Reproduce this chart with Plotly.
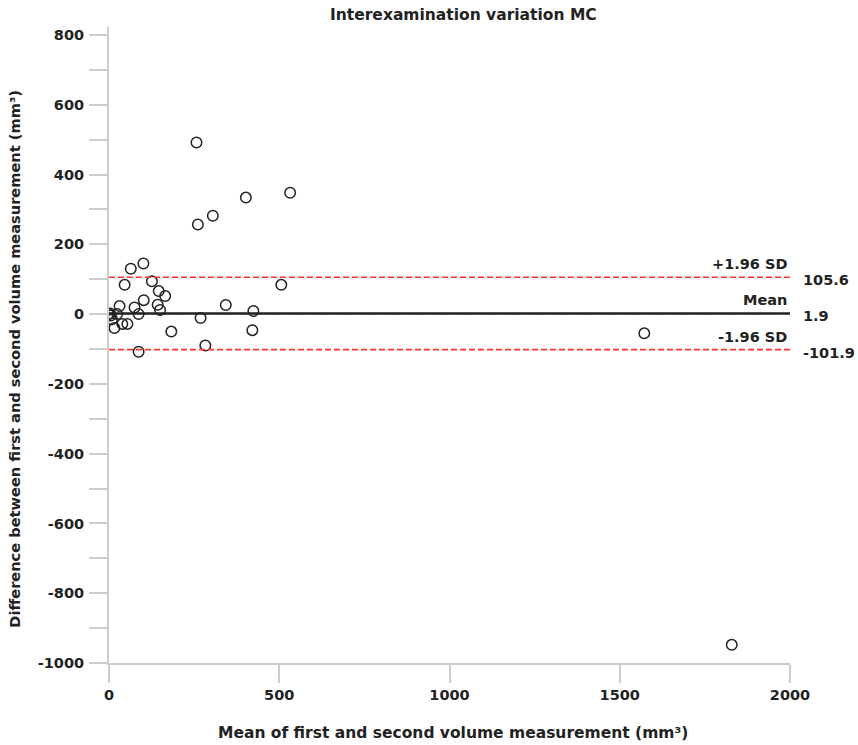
import plotly.graph_objects as go

# Bland-Altman data: mean of the two measurements vs their difference (mm³)
mean_vals = [0, 3, 5, 24, 9, 16, 31, 39, 54, 46, 64, 101, 126, 146, 165, 102, 75, 87,
             143, 150, 87, 183, 269, 283, 343, 424, 421, 506, 257, 261, 305, 402, 532,
             1572, 1829]
diff_vals = [0, 2, -4, 0, -15, -40, 23, -28, -28, 84, 130, 145, 94, 66, 52, 40, 19, 0,
             27, 12, -108, -50, -11, -90, 26, 9, -46, 84, 492, 257, 282, 334, 348,
             -55, -948]

# Agreement statistics
bias = 1.9
upper_loa = 105.6
lower_loa = -101.9

# Axis ticks (labels written with a plain hyphen for negatives)
x_ticks = [0, 500, 1000, 1500, 2000]
x_ticklabels = ["0", "500", "1000", "1500", "2000"]
y_ticks = [-1000, -800, -600, -400, -200, 0, 200, 400, 600, 800]
y_ticklabels = ["-1000", "-800", "-600", "-400", "-200", "0", "200", "400", "600", "800"]

x_range = [0, 2000]
y_range = [-1000, 823]

FONT = "DejaVu Sans, Liberation Sans, sans-serif"
TEXT = "#222222"
AXIS_GRAY = "#cccccc"

fig = go.Figure()

fig.add_trace(go.Scatter(
    x=mean_vals, y=diff_vals, mode="markers",
    marker=dict(symbol="circle-open", size=10.5, color=TEXT,
                line=dict(width=1.5, color=TEXT)),
    showlegend=False, hoverinfo="x+y",
))

# zero reference, bias and limits of agreement
fig.add_shape(type="line", xref="x", yref="y", x0=x_range[0], x1=1950, y0=0, y1=0,
              line=dict(color="#aaaaaa", width=1, dash="dot"), layer="below")
fig.add_shape(type="line", xref="x", yref="y", x0=x_range[0], x1=x_range[1], y0=bias, y1=bias,
              line=dict(color=TEXT, width=2.6))
for v in (upper_loa, lower_loa):
    fig.add_shape(type="line", xref="x", yref="y", x0=x_range[0], x1=x_range[1], y0=v, y1=v,
                  line=dict(color="#ff3535", width=1.6, dash="6px,3px"))

label_font = dict(family=FONT, size=14.5, color=TEXT, weight="bold")
for name, v in (("+1.96 SD", upper_loa), ("Mean", bias), ("-1.96 SD", lower_loa)):
    fig.add_annotation(x=x_range[1], y=v, xref="x", yref="y", text=name, showarrow=False,
                       xanchor="right", yanchor="middle", yshift=13, xshift=-1, font=label_font)
    fig.add_annotation(x=x_range[1], y=v, xref="x", yref="y", text=f"{v:.1f}", showarrow=False,
                       xanchor="left", yanchor="middle", yshift=-3, xshift=11, font=label_font)

fig.add_annotation(x=0.521, y=1.019, xref="paper", yref="paper",
                   text="Interexamination variation MC", showarrow=False,
                   xanchor="center", yanchor="middle",
                   font=dict(family=FONT, size=15.5, color=TEXT, weight="bold"))
fig.add_annotation(x=0.505, y=-0.110, xref="paper", yref="paper",
                   text="Mean of first and second volume measurement (mm³)", showarrow=False,
                   xanchor="center", yanchor="middle",
                   font=dict(family=FONT, size=15.5, color=TEXT, weight="bold"))
fig.add_annotation(x=-0.139, y=0.479, xref="paper", yref="paper", textangle=-90,
                   text="Difference between first and second volume measurement (mm³)",
                   showarrow=False, xanchor="center", yanchor="middle",
                   font=dict(family=FONT, size=14.6, color=TEXT, weight="bold"))

tick_font = dict(family=FONT, size=14.5, color=TEXT, weight="bold")
fig.update_xaxes(range=x_range, tickmode="array", tickvals=x_ticks, ticktext=x_ticklabels,
                 showline=True, linecolor=AXIS_GRAY, linewidth=2, ticks="outside", ticklen=18,
                 tickwidth=1.5, tickcolor=AXIS_GRAY, showgrid=False, zeroline=False,
                 tickfont=tick_font)
fig.update_yaxes(range=y_range, tickmode="array", tickvals=y_ticks, ticktext=y_ticklabels,
                 showline=True, linecolor=AXIS_GRAY, linewidth=2, ticks="outside", ticklen=18,
                 tickwidth=1.5, tickcolor=AXIS_GRAY, showgrid=False, zeroline=False,
                 tickfont=tick_font, ticklabelstandoff=2,
                 minor=dict(tick0=-900, dtick=200, ticks="outside", ticklen=18, tickwidth=1.5,
                            tickcolor=AXIS_GRAY, showgrid=False))

fig.update_layout(
    width=858, height=745,
    margin=dict(l=109, r=68, t=27, b=82),
    paper_bgcolor="white", plot_bgcolor="white",
)

fig.write_html("out.html")
